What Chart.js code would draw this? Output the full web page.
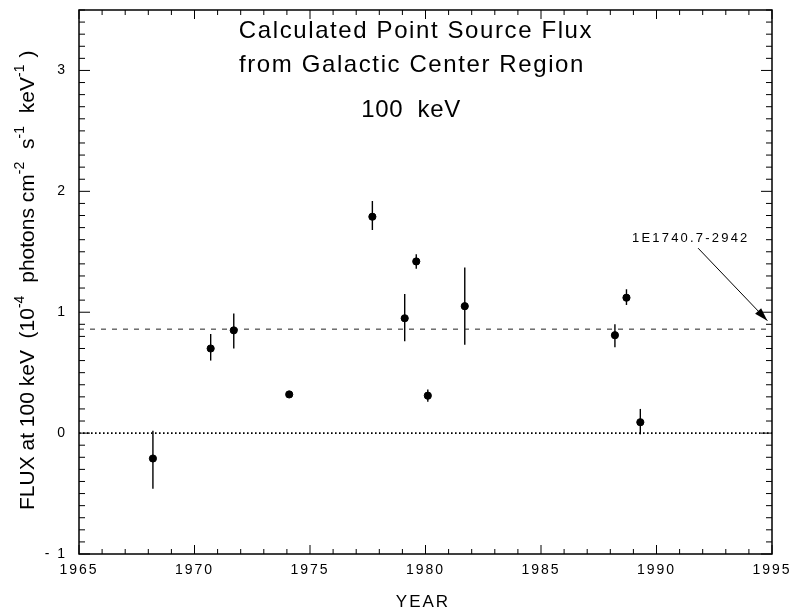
<!DOCTYPE html>
<html>
<head>
<meta charset="utf-8">
<script src="https://cdn.jsdelivr.net/npm/chart.js@4"></script>
<style>
  html, body { margin: 0; padding: 0; background: #fff; }
  #wrap { width: 791px; height: 613px; }
</style>
</head>
<body>
<div id="wrap"><canvas id="grafico" width="791" height="613"></canvas></div>
<script>
// valores
const anos = [1968.2, 1970.7, 1971.7, 1974.1, 1977.7, 1979.1, 1979.6, 1980.1, 1981.7, 1988.2, 1988.7, 1989.3];
const fluxo = [-0.21, 0.70, 0.85, 0.32, 1.79, 0.95, 1.42, 0.31, 1.05, 0.81, 1.12, 0.09];
const fluxoSup = [0.02, 0.82, 0.99, 0.34, 1.92, 1.15, 1.48, 0.36, 1.37, 0.90, 1.19, 0.20];
const fluxoInf = [-0.46, 0.60, 0.70, 0.30, 1.68, 0.76, 1.36, 0.26, 0.73, 0.71, 1.06, -0.01];

const ticksX = [1965, 1970, 1975, 1980, 1985, 1990, 1995];
const ticksY = [-1, 0, 1, 2, 3];
const fluxoMedio = 0.86;

const titulo = ['Calculated Point Source Flux', 'from Galactic Center Region'];
const energia = '100  keV';
const fonte = '1E1740.7-2942';
const setaDe = [1991.8, 1.53];
const setaPara = [1994.8, 0.93];

const FONTE = "'Liberation Sans', Arial, Helvetica, sans-serif";

const pontos = anos.map((a, i) => ({ x: a, y: fluxo[i] }));

// barras de erro, ticks internos, títulos e rótulo do eixo y
const desenhos = {
    id: 'desenhos',
    beforeDraw(chart) {
        chart.ctx.letterSpacing = '2px';
    },
    beforeDatasetsDraw(chart) {
        const { ctx, scales: { x, y } } = chart;
        ctx.save();
        ctx.strokeStyle = '#000';
        ctx.lineWidth = 1.4;
        anos.forEach((a, i) => {
            const px = x.getPixelForValue(a);
            ctx.beginPath();
            ctx.moveTo(px, y.getPixelForValue(fluxoSup[i]));
            ctx.lineTo(px, y.getPixelForValue(fluxoInf[i]));
            ctx.stroke();
        });
        ctx.restore();
    },
    afterDraw(chart) {
        const { ctx, chartArea: area, scales: { x, y } } = chart;
        ctx.save();
        ctx.letterSpacing = '0px';
        ctx.strokeStyle = '#000';
        ctx.fillStyle = '#000';

        // moldura
        ctx.lineWidth = 1.5;
        ctx.strokeRect(area.left, area.top, area.right - area.left, area.bottom - area.top);

        // ticks do eixo x (embaixo e em cima)
        ctx.lineWidth = 1;
        for (let a = 1965; a <= 1995; a++) {
            const px = x.getPixelForValue(a);
            const t = a % 5 === 0 ? 9 : 5;
            ctx.beginPath();
            ctx.moveTo(px, area.bottom); ctx.lineTo(px, area.bottom - t);
            ctx.moveTo(px, area.top); ctx.lineTo(px, area.top + t);
            ctx.stroke();
        }
        // ticks do eixo y (esquerda e direita)
        for (let i = -10; i <= 35; i++) {
            const py = y.getPixelForValue(i / 10);
            const t = i % 10 === 0 ? 11 : 6;
            ctx.beginPath();
            ctx.moveTo(area.left, py); ctx.lineTo(area.left + t, py);
            ctx.moveTo(area.right, py); ctx.lineTo(area.right - t, py);
            ctx.stroke();
        }

        // títulos
        ctx.textAlign = 'center';
        ctx.textBaseline = 'alphabetic';
        ctx.font = '24px ' + FONTE;
        ctx.letterSpacing = '1.6px';
        ctx.fillText(titulo[0], 416, 38);
        ctx.fillText(titulo[1], 412, 72);
        ctx.letterSpacing = '0.6px';
        ctx.fillText(energia, 411, 117);

        // anotação com seta
        ctx.font = '13px ' + FONTE;
        ctx.letterSpacing = '2.2px';
        ctx.textAlign = 'left';
        ctx.fillText(fonte, 632, 242);
        ctx.letterSpacing = '0px';
        const x0 = x.getPixelForValue(setaDe[0]), y0 = y.getPixelForValue(setaDe[1]);
        const x1 = x.getPixelForValue(setaPara[0]), y1 = y.getPixelForValue(setaPara[1]);
        ctx.lineWidth = 1;
        ctx.beginPath(); ctx.moveTo(x0, y0); ctx.lineTo(x1, y1); ctx.stroke();
        const ang = Math.atan2(y1 - y0, x1 - x0);
        ctx.beginPath();
        ctx.moveTo(x1, y1);
        ctx.lineTo(x1 - 14 * Math.cos(ang - 0.3), y1 - 14 * Math.sin(ang - 0.3));
        ctx.lineTo(x1 - 14 * Math.cos(ang + 0.3), y1 - 14 * Math.sin(ang + 0.3));
        ctx.closePath(); ctx.fill();

        // rótulo do eixo y com expoentes
        const partes = [
            ['FLUX at 100 keV  (10', 0], ['-4', 1], [' photons cm', 0], ['-2', 1],
            [' s', 0], ['-1', 1], [' keV', 0], ['-1', 1], [')', 0]
        ];
        ctx.translate(34, 510);
        ctx.rotate(-Math.PI / 2);
        ctx.textAlign = 'left';
        let pos = 0;
        partes.forEach(([txt, sup]) => {
            ctx.font = (sup ? '14px ' : '21px ') + FONTE;
            ctx.fillText(txt, pos, sup ? -10 : 0);
            pos += ctx.measureText(txt).width + (sup ? 7 : 0);
        });
        ctx.restore();

        // rótulo do eixo x
        ctx.save();
        ctx.font = '17px ' + FONTE;
        ctx.textAlign = 'center';
        ctx.fillStyle = '#000';
        ctx.fillText('YEAR', 423, 607);
        ctx.restore();
    }
};

new Chart(document.getElementById('grafico').getContext('2d'), {
    type: 'scatter',
    data: {
        datasets: [
            {
                data: pontos,
                backgroundColor: '#000',
                borderColor: '#000',
                pointRadius: 3.6,
                pointHoverRadius: 3.6
            },
            {
                type: 'line',
                data: [{ x: 1965, y: fluxoMedio }, { x: 1995, y: fluxoMedio }],
                borderColor: '#222',
                borderWidth: 1,
                borderDash: [5, 6],
                pointRadius: 0
            },
            {
                type: 'line',
                data: [{ x: 1965, y: 0 }, { x: 1995, y: 0 }],
                borderColor: '#000',
                borderWidth: 1.6,
                borderDash: [1.6, 2.4],
                pointRadius: 0
            }
        ]
    },
    options: {
        responsive: false,
        animation: false,
        devicePixelRatio: 1,
        layout: { padding: { top: 10, right: 19, left: 0, bottom: 0 } },
        plugins: {
            legend: { display: false },
            tooltip: { enabled: false },
            title: { display: false }
        },
        scales: {
            x: {
                type: 'linear',
                min: 1965,
                max: 1995,
                grid: { display: false, drawTicks: false },
                border: { display: false },
                afterBuildTicks: s => { s.ticks = ticksX.map(v => ({ value: v })); },
                afterFit: s => { s.height = 59; s.paddingLeft = 0; s.paddingRight = 0; },
                ticks: {
                    color: '#000',
                    padding: 8,
                    maxRotation: 0,
                    autoSkip: false,
                    font: { family: FONTE, size: 14 },
                    callback: v => String(v)
                }
            },
            y: {
                min: -1,
                max: 3.5,
                grid: { display: false, drawTicks: false },
                border: { display: false },
                afterBuildTicks: s => { s.ticks = ticksY.map(v => ({ value: v })); },
                afterFit: s => { s.width = 79; s.paddingTop = 0; s.paddingBottom = 0; },
                ticks: {
                    color: '#000',
                    padding: 12,
                    font: { family: FONTE, size: 14 },
                    callback: v => (v < 0 ? '- ' + Math.abs(v) : String(v))
                }
            }
        }
    },
    plugins: [desenhos]
});
</script>
</body>
</html>
